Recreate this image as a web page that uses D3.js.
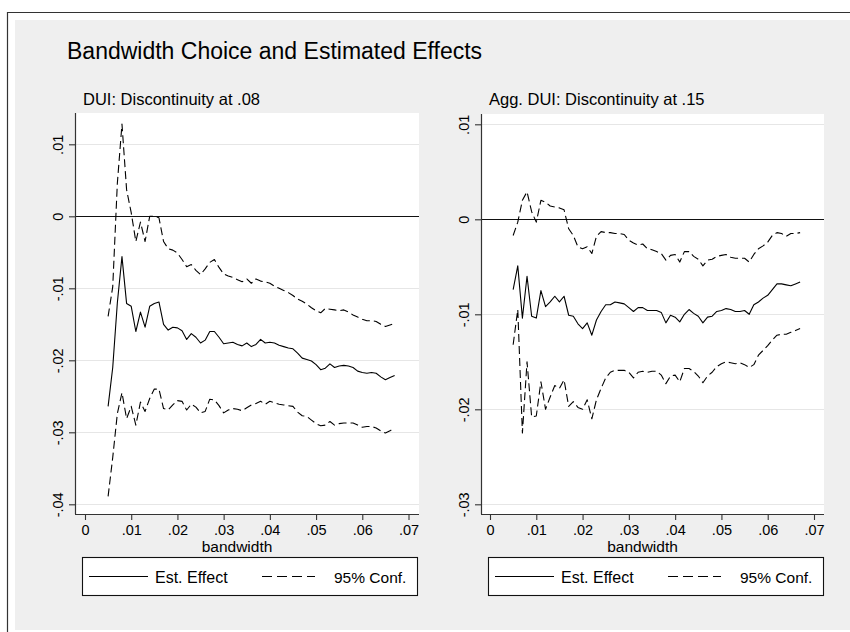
<!DOCTYPE html>
<html>
<head>
<meta charset="utf-8">
<script src="https://cdn.jsdelivr.net/npm/d3@7"></script>
<style>
  html, body { margin: 0; padding: 0; background: #ffffff; }
  svg { display: block; }
  text { font-family: "Liberation Sans", Arial, sans-serif; fill: #000; }
</style>
</head>
<body>
<svg id="chart" width="850" height="632"></svg>
<script>
// Bandwidths at which the local regressions were estimated
const bandwidth = [
  .005,.006,.007,.008,.009,.010,.011,.012,.013,.014,.015,.016,.017,.018,.019,.020,
  .021,.022,.023,.024,.025,.026,.027,.028,.029,.030,.031,.032,.033,.034,.035,.036,
  .037,.038,.039,.040,.041,.042,.043,.044,.045,.046,.047,.048,.049,.050,.051,.052,
  .053,.054,.055,.056,.057,.058,.059,.060,.061,.062,.063,.064,.065,.066,.067
];

// DUI threshold (.08): estimate and 95% bounds
const duiEffect = [
  -.0264,-.0210,-.0120,-.0056,-.0121,-.0125,-.0160,-.0133,-.0154,-.0125,-.0121,-.0119,-.0150,-.0158,-.0154,-.0155,
  -.0159,-.0171,-.0163,-.0168,-.0176,-.0172,-.0160,-.0160,-.0168,-.0177,-.0176,-.0175,-.0178,-.0180,-.0176,-.0181,
  -.0178,-.0171,-.0176,-.0175,-.0176,-.0179,-.0181,-.0183,-.0184,-.0190,-.0197,-.0199,-.0201,-.0206,-.0213,-.0211,
  -.0205,-.0210,-.0208,-.0207,-.0208,-.0210,-.0215,-.0217,-.0218,-.0217,-.0218,-.0223,-.0227,-.0224,-.0221
];
const duiUpper = [
  -.0139,-.0098,.0046,.0128,.0037,.0005,-.0035,-.0008,-.0035,.0000,.0000,-.0002,-.0035,-.0045,-.0047,-.0051,
  -.0060,-.0070,-.0067,-.0075,-.0081,-.0073,-.0064,-.0060,-.0071,-.0080,-.0083,-.0085,-.0088,-.0091,-.0087,-.0093,
  -.0087,-.0090,-.0091,-.0093,-.0097,-.0100,-.0103,-.0106,-.0110,-.0115,-.0118,-.0122,-.0127,-.0131,-.0134,-.0128,
  -.0129,-.0130,-.0131,-.0130,-.0133,-.0137,-.0140,-.0143,-.0145,-.0145,-.0146,-.0150,-.0153,-.0151,-.0149
];
const duiLower = [
  -.0389,-.0335,-.0274,-.0245,-.0281,-.0264,-.0290,-.0258,-.0271,-.0253,-.0240,-.0240,-.0267,-.0269,-.0262,-.0256,
  -.0257,-.0269,-.0261,-.0265,-.0273,-.0271,-.0254,-.0255,-.0263,-.0273,-.0269,-.0267,-.0268,-.0270,-.0266,-.0262,
  -.0260,-.0257,-.0261,-.0257,-.0259,-.0261,-.0262,-.0263,-.0264,-.0272,-.0277,-.0278,-.0283,-.0288,-.0291,-.0290,
  -.0285,-.0290,-.0288,-.0287,-.0287,-.0287,-.0290,-.0293,-.0292,-.0292,-.0294,-.0298,-.0301,-.0298,-.0294
];

// Aggravated DUI threshold (.15): estimate and 95% bounds
const aggEffect = [
  -.0074,-.0049,-.0104,-.0060,-.0102,-.0104,-.0075,-.0092,-.0087,-.0081,-.0087,-.0081,-.0101,-.0102,-.0110,-.0115,
  -.0109,-.0122,-.0106,-.0097,-.0090,-.0090,-.0087,-.0088,-.0089,-.0093,-.0097,-.0093,-.0093,-.0096,-.0096,-.0096,
  -.0098,-.0109,-.0101,-.0103,-.0108,-.0100,-.0095,-.0099,-.0102,-.0109,-.0103,-.0102,-.0097,-.0096,-.0094,-.0095,
  -.0097,-.0097,-.0096,-.0100,-.0090,-.0087,-.0083,-.0080,-.0074,-.0068,-.0068,-.0069,-.0070,-.0068,-.0066
];
const aggUpper = [
  -.0017,-.0003,.0020,.0029,.0008,-.0003,.0020,.0018,.0014,.0013,.0012,.0010,-.0010,-.0017,-.0029,-.0031,
  -.0029,-.0036,-.0018,-.0013,-.0014,-.0014,-.0015,-.0015,-.0016,-.0022,-.0025,-.0027,-.0026,-.0031,-.0032,-.0034,
  -.0036,-.0043,-.0038,-.0037,-.0045,-.0034,-.0034,-.0039,-.0042,-.0049,-.0043,-.0042,-.0039,-.0038,-.0037,-.0040,
  -.0041,-.0041,-.0041,-.0045,-.0037,-.0031,-.0028,-.0024,-.0017,-.0014,-.0015,-.0018,-.0015,-.0015,-.0014
];
const aggLower = [
  -.0132,-.0095,-.0225,-.0150,-.0208,-.0207,-.0171,-.0200,-.0187,-.0175,-.0178,-.0169,-.0197,-.0192,-.0198,-.0200,
  -.0190,-.0210,-.0190,-.0178,-.0167,-.0161,-.0159,-.0159,-.0159,-.0161,-.0167,-.0161,-.0160,-.0161,-.0160,-.0160,
  -.0164,-.0173,-.0165,-.0164,-.0171,-.0157,-.0157,-.0160,-.0165,-.0172,-.0165,-.0161,-.0155,-.0152,-.0150,-.0151,
  -.0152,-.0151,-.0153,-.0156,-.0153,-.0143,-.0138,-.0133,-.0127,-.0122,-.0121,-.0121,-.0119,-.0117,-.0115
];

// Axis ticks
const xTicks = [0, .01, .02, .03, .04, .05, .06, .07];
const xTickLabels = ["0", ".01", ".02", ".03", ".04", ".05", ".06", ".07"];
const duiYTicks = [.01, 0, -.01, -.02, -.03, -.04];
const duiYTickLabels = [".01", "0", "-.01", "-.02", "-.03", "-.04"];
const aggYTicks = [.01, 0, -.01, -.02, -.03];
const aggYTickLabels = [".01", "0", "-.01", "-.02", "-.03"];

// Text
const mainTitle = "Bandwidth Choice and Estimated Effects";
const panelTitles = ["DUI: Discontinuity at .08", "Agg. DUI: Discontinuity at .15"];
const xAxisTitle = "bandwidth";
const legendLabels = ["Est. Effect", "95% Conf."];

const svg = d3.select("#chart");

// outer frame and graph background
svg.append("rect").attr("x", 15).attr("y", 20).attr("width", 835).attr("height", 610).attr("fill", "#efefef");
svg.append("line").attr("x1", 7).attr("x2", 850).attr("y1", 12.5).attr("y2", 12.5).attr("stroke", "#333").attr("stroke-width", 1.2);
svg.append("line").attr("x1", 7.5).attr("x2", 7.5).attr("y1", 12).attr("y2", 632).attr("stroke", "#333").attr("stroke-width", 1.2);

svg.append("text").attr("x", 67).attr("y", 59)
  .style("font-size", "23px").text(mainTitle);

const panels = [
  {
    title: panelTitles[0], effect: duiEffect, upper: duiUpper, lower: duiLower,
    yTicks: duiYTicks, yTickLabels: duiYTickLabels,
    plot: {left: 75, right: 419, top: 113, bottom: 514},
    xRange: [85, 408.5], yDomain: [-.04, .01], yRange: [504.3, 144.3]
  },
  {
    title: panelTitles[1], effect: aggEffect, upper: aggUpper, lower: aggLower,
    yTicks: aggYTicks, yTickLabels: aggYTickLabels,
    plot: {left: 481, right: 824, top: 114, bottom: 514},
    xRange: [490, 814], yDomain: [-.03, .01], yRange: [504.3, 124.3]
  }
];

panels.forEach(p => {
  const g = svg.append("g");
  const x = d3.scaleLinear().domain([0, .07]).range(p.xRange);
  const y = d3.scaleLinear().domain(p.yDomain).range(p.yRange);
  const P = p.plot;

  // panel subtitle
  g.append("text").attr("x", P.left + 8).attr("y", 105)
    .style("font-size", "16.5px").text(p.title);

  // plot region
  g.append("rect").attr("x", P.left).attr("y", P.top)
    .attr("width", P.right - P.left).attr("height", P.bottom - P.top).attr("fill", "#fff");

  // horizontal grid lines (zero line drawn separately)
  g.selectAll("line.grid").data(p.yTicks.filter(t => t !== 0)).join("line")
    .attr("class", "grid")
    .attr("x1", P.left).attr("x2", P.right)
    .attr("y1", d => Math.round(y(d)) + 0.5).attr("y2", d => Math.round(y(d)) + 0.5)
    .attr("stroke", "#e6e6e6").attr("stroke-width", 1.2);

  // reference line at zero
  g.append("line")
    .attr("x1", P.left).attr("x2", P.right)
    .attr("y1", Math.round(y(0)) + 0.5).attr("y2", Math.round(y(0)) + 0.5)
    .attr("stroke", "#111").attr("stroke-width", 1.1);

  // y axis
  const yAxis = d3.axisLeft(y).tickValues(p.yTicks).tickSize(6).tickPadding(5)
    .tickFormat((d, i) => p.yTickLabels[i]);
  const ya = g.append("g").attr("transform", `translate(${P.left},0)`).call(yAxis);
  ya.select(".domain").attr("d", `M0.5,${P.top}V${P.bottom}`).attr("stroke", "#333").attr("stroke-width", 1.2);
  ya.selectAll(".tick line").attr("stroke", "#333").attr("stroke-width", 1.1);
  ya.selectAll(".tick text")
    .attr("x", null).attr("dy", null)
    .attr("text-anchor", "middle")
    .attr("transform", "translate(-12,0) rotate(-90)")
    .style("font-size", "14.5px").style("font-family", '"Liberation Sans", Arial, sans-serif');

  // x axis
  const xAxis = d3.axisBottom(x).tickValues(xTicks).tickSize(6).tickPadding(5)
    .tickFormat((d, i) => xTickLabels[i]);
  const xa = g.append("g").attr("transform", `translate(0,${P.bottom})`).call(xAxis);
  xa.select(".domain").attr("d", `M${P.left},0.5H${P.right}`).attr("stroke", "#333").attr("stroke-width", 1.2);
  xa.selectAll(".tick line").attr("stroke", "#333").attr("stroke-width", 1.1);
  xa.selectAll(".tick text").style("font-size", "14.5px").style("font-family", '"Liberation Sans", Arial, sans-serif');

  g.append("text").attr("x", (P.left - 20 + P.right) / 2).attr("y", 552)
    .attr("text-anchor", "middle").style("font-size", "15.5px").text(xAxisTitle);

  // series
  const line = d3.line().x((d, i) => x(bandwidth[i])).y(d => y(d));
  const series = [
    {v: p.upper, dash: "8,4"},
    {v: p.lower, dash: "8,4"},
    {v: p.effect, dash: null}
  ];
  series.forEach(s => {
    g.append("path").datum(s.v).attr("d", line)
      .attr("fill", "none").attr("stroke", "#000").attr("stroke-width", 1.1)
      .attr("stroke-linejoin", "round")
      .attr("stroke-dasharray", s.dash);
  });

  // legend
  const lx = P.left + 7, ly = 557, lw = 335, lh = 38;
  g.append("rect").attr("x", lx + 0.5).attr("y", ly + 0.5).attr("width", lw).attr("height", lh)
    .attr("fill", "#fff").attr("stroke", "#111").attr("stroke-width", 1.1);
  const cy = ly + lh / 2 + 0.5;
  g.append("line").attr("x1", lx + 7).attr("x2", lx + 66).attr("y1", cy).attr("y2", cy)
    .attr("stroke", "#000").attr("stroke-width", 1.1);
  g.append("text").attr("x", lx + 73).attr("y", cy + 6).style("font-size", "16px").text(legendLabels[0]);
  g.append("line").attr("x1", lx + 180).attr("x2", lx + 233).attr("y1", cy).attr("y2", cy)
    .attr("stroke", "#000").attr("stroke-width", 1.1).attr("stroke-dasharray", "10,5");
  g.append("text").attr("x", lx + 252).attr("y", cy + 6).style("font-size", "15.5px").text(legendLabels[1]);
});
</script>
</body>
</html>
